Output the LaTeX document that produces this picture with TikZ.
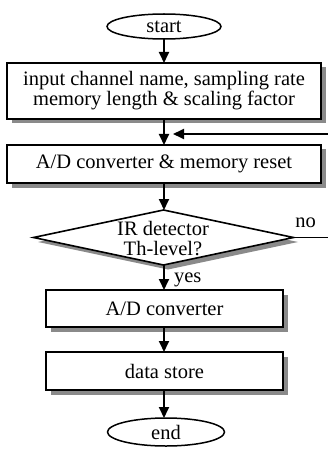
\documentclass[tikz,border=0pt]{standalone}
\usepackage{fontspec}
\setmainfont{Liberation Serif}
\usetikzlibrary{arrows.meta,shapes.geometric,shadows}
\definecolor{shd}{RGB}{138,138,138}
\begin{document}
\begin{tikzpicture}[x=1pt,y=-1pt,
  font=\fontsize{20.5}{20}\selectfont,
  every node/.style={inner sep=0pt, outer sep=0pt},
  shadowed/.style={drop shadow={shadow xshift=4.5pt, shadow yshift=-4.5pt, opacity=1, fill=shd}},
  proc/.style={draw, line width=1.8pt, fill=white, rectangle, align=center, shadowed},
  term/.style={draw, line width=1.5pt, fill=white, ellipse},
  decis/.style={draw, line width=1.6pt, fill=white, diamond, shadowed},
  arr/.style={line width=1.8pt, -{Triangle[width=10pt,length=11pt]}},
  conn/.style={line width=1.8pt}]
\useasboundingbox (0,0) rectangle (328,449);

\node[term, minimum width=114pt, minimum height=25pt] (start) at (164,26.5) {start};
\node[proc, minimum width=314pt, minimum height=56pt] (b1) at (164,91) {input channel name, sampling rate\\memory length \& scaling factor};
\node[proc, minimum width=314pt, minimum height=38pt] (b2) at (164,164) {A/D converter \& memory reset};
\node[decis, minimum width=260pt, minimum height=55pt] (dec) at (163.5,237.5) {};
\node[align=center] (dectext) at (163,239) {IR detector\\Th-level?};
\node[proc, minimum width=237pt, minimum height=37pt] (b3) at (164.5,308.5) {A/D converter};
\node[proc, minimum width=237pt, minimum height=38pt] (b4) at (164.5,371) {data store};
\node[term, minimum width=117pt, minimum height=28pt] (end) at (166,432) {end};

\node[anchor=base] (no) at (305.5,227) {no};
\node[anchor=base west] (yes) at (174,282) {yes};

\coordinate (fbR) at (328,134);
\coordinate (fbT) at (173,134);
\coordinate (noR) at (328,237.5);

\draw[arr] (start) -- (start |- b1.north);
\draw[arr] (b1.south -| start) -- (b2.north -| start);
\draw[arr] (fbR) -- (fbT);
\draw[arr] (b2.south -| start) -- (dec.north -| start);
\draw[conn] (dec.east) -- (noR);
\draw[arr] (dec.south -| start) -- (b3.north -| start);
\draw[arr] (b3.south -| start) -- (b4.north -| start);
\draw[arr] (b4.south -| start) -- (end.north -| start);
\end{tikzpicture}
\end{document}
